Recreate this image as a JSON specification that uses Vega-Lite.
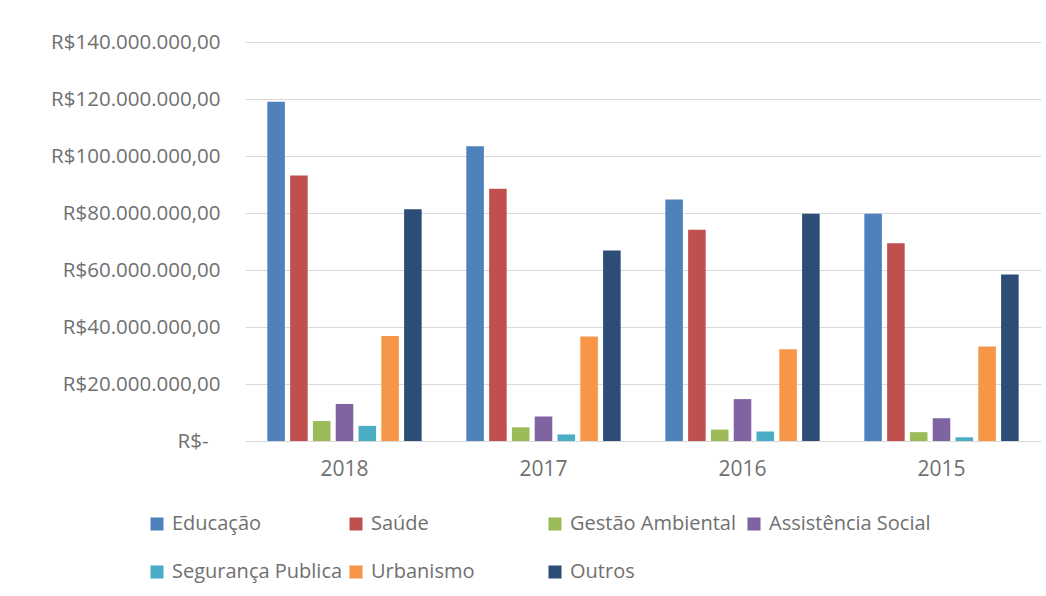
{
  "$schema": "https://vega.github.io/schema/vega-lite/v6.json",
  "width": 796,
  "height": 399,
  "autosize": "none",
  "padding": {"left": 245, "top": 42, "right": 5, "bottom": 155},
  "background": "white",
  "config": {
    "font": "Open Sans",
    "locale": {"number": {"decimal": ",", "thousands": ".", "grouping": [3], "currency": ["R$", ""]}},
    "view": {"stroke": null}
  },
  "data": {
    "values": [
      {"ano": "2018", "categoria": "Educação", "valor": 119000000},
      {"ano": "2018", "categoria": "Saúde", "valor": 93200000},
      {"ano": "2018", "categoria": "Gestão Ambiental", "valor": 7000000},
      {"ano": "2018", "categoria": "Assistência Social", "valor": 13000000},
      {"ano": "2018", "categoria": "Segurança Publica", "valor": 5300000},
      {"ano": "2018", "categoria": "Urbanismo", "valor": 36800000},
      {"ano": "2018", "categoria": "Outros", "valor": 81300000},
      {"ano": "2017", "categoria": "Educação", "valor": 103400000},
      {"ano": "2017", "categoria": "Saúde", "valor": 88500000},
      {"ano": "2017", "categoria": "Gestão Ambiental", "valor": 4800000},
      {"ano": "2017", "categoria": "Assistência Social", "valor": 8600000},
      {"ano": "2017", "categoria": "Segurança Publica", "valor": 2300000},
      {"ano": "2017", "categoria": "Urbanismo", "valor": 36700000},
      {"ano": "2017", "categoria": "Outros", "valor": 66800000},
      {"ano": "2016", "categoria": "Educação", "valor": 84700000},
      {"ano": "2016", "categoria": "Saúde", "valor": 74100000},
      {"ano": "2016", "categoria": "Gestão Ambiental", "valor": 4000000},
      {"ano": "2016", "categoria": "Assistência Social", "valor": 14700000},
      {"ano": "2016", "categoria": "Segurança Publica", "valor": 3300000},
      {"ano": "2016", "categoria": "Urbanismo", "valor": 32200000},
      {"ano": "2016", "categoria": "Outros", "valor": 79700000},
      {"ano": "2015", "categoria": "Educação", "valor": 79700000},
      {"ano": "2015", "categoria": "Saúde", "valor": 69400000},
      {"ano": "2015", "categoria": "Gestão Ambiental", "valor": 3100000},
      {"ano": "2015", "categoria": "Assistência Social", "valor": 8000000},
      {"ano": "2015", "categoria": "Segurança Publica", "valor": 1300000},
      {"ano": "2015", "categoria": "Urbanismo", "valor": 33200000},
      {"ano": "2015", "categoria": "Outros", "valor": 58400000}
    ]
  },
  "mark": {"type": "bar"},
  "encoding": {
    "x": {
      "field": "ano",
      "type": "nominal",
      "sort": ["2018", "2017", "2016", "2015"],
      "scale": {"paddingInner": 0, "paddingOuter": 0},
      "axis": {
        "title": null,
        "labelAngle": 0,
        "labelFontSize": 21,
        "labelColor": "#707070",
        "labelPadding": 17,
        "ticks": false,
        "domain": true,
        "domainColor": "#d9d9d9",
        "grid": false
      }
    },
    "xOffset": {
      "field": "categoria",
      "sort": ["Educação", "Saúde", "Gestão Ambiental", "Assistência Social", "Segurança Publica", "Urbanismo", "Outros"],
      "scale": {"paddingInner": 0.23, "paddingOuter": 0.98}
    },
    "y": {
      "field": "valor",
      "type": "quantitative",
      "scale": {"domain": [0, 140000000]},
      "axis": {
        "title": null,
        "values": [0, 20000000, 40000000, 60000000, 80000000, 100000000, 120000000, 140000000],
        "format": "$,.2f",
        "labelExpr": "datum.value == 0 ? 'R$-' : datum.label",
        "labelFontSize": 20.5,
        "labelColor": "#707070",
        "labelPadding": {"condition": {"test": "datum.value == 0", "value": 37}, "value": 25},
        "ticks": false,
        "domain": false,
        "grid": true,
        "gridColor": "#d9d9d9",
        "gridWidth": 1
      }
    },
    "color": {
      "field": "categoria",
      "type": "nominal",
      "sort": ["Educação", "Saúde", "Gestão Ambiental", "Assistência Social", "Segurança Publica", "Urbanismo", "Outros"],
      "scale": {
        "domain": ["Educação", "Saúde", "Gestão Ambiental", "Assistência Social", "Segurança Publica", "Urbanismo", "Outros"],
        "range": ["#4F81BD", "#C0504D", "#9BBB59", "#8064A2", "#4BACC6", "#F79646", "#2C4D75"]
      },
      "legend": {
        "title": null,
        "orient": "none",
        "legendX": -98,
        "legendY": 472,
        "direction": "horizontal",
        "columns": 4,
        "gridAlign": "all",
        "symbolType": "square",
        "symbolSize": 170,
        "symbolStrokeWidth": 0,
        "labelFontSize": 20,
        "labelColor": "#707070",
        "labelOffset": 5,
        "labelLimit": 300,
        "columnPadding": 3,
        "rowPadding": 28
      }
    }
  }
}
